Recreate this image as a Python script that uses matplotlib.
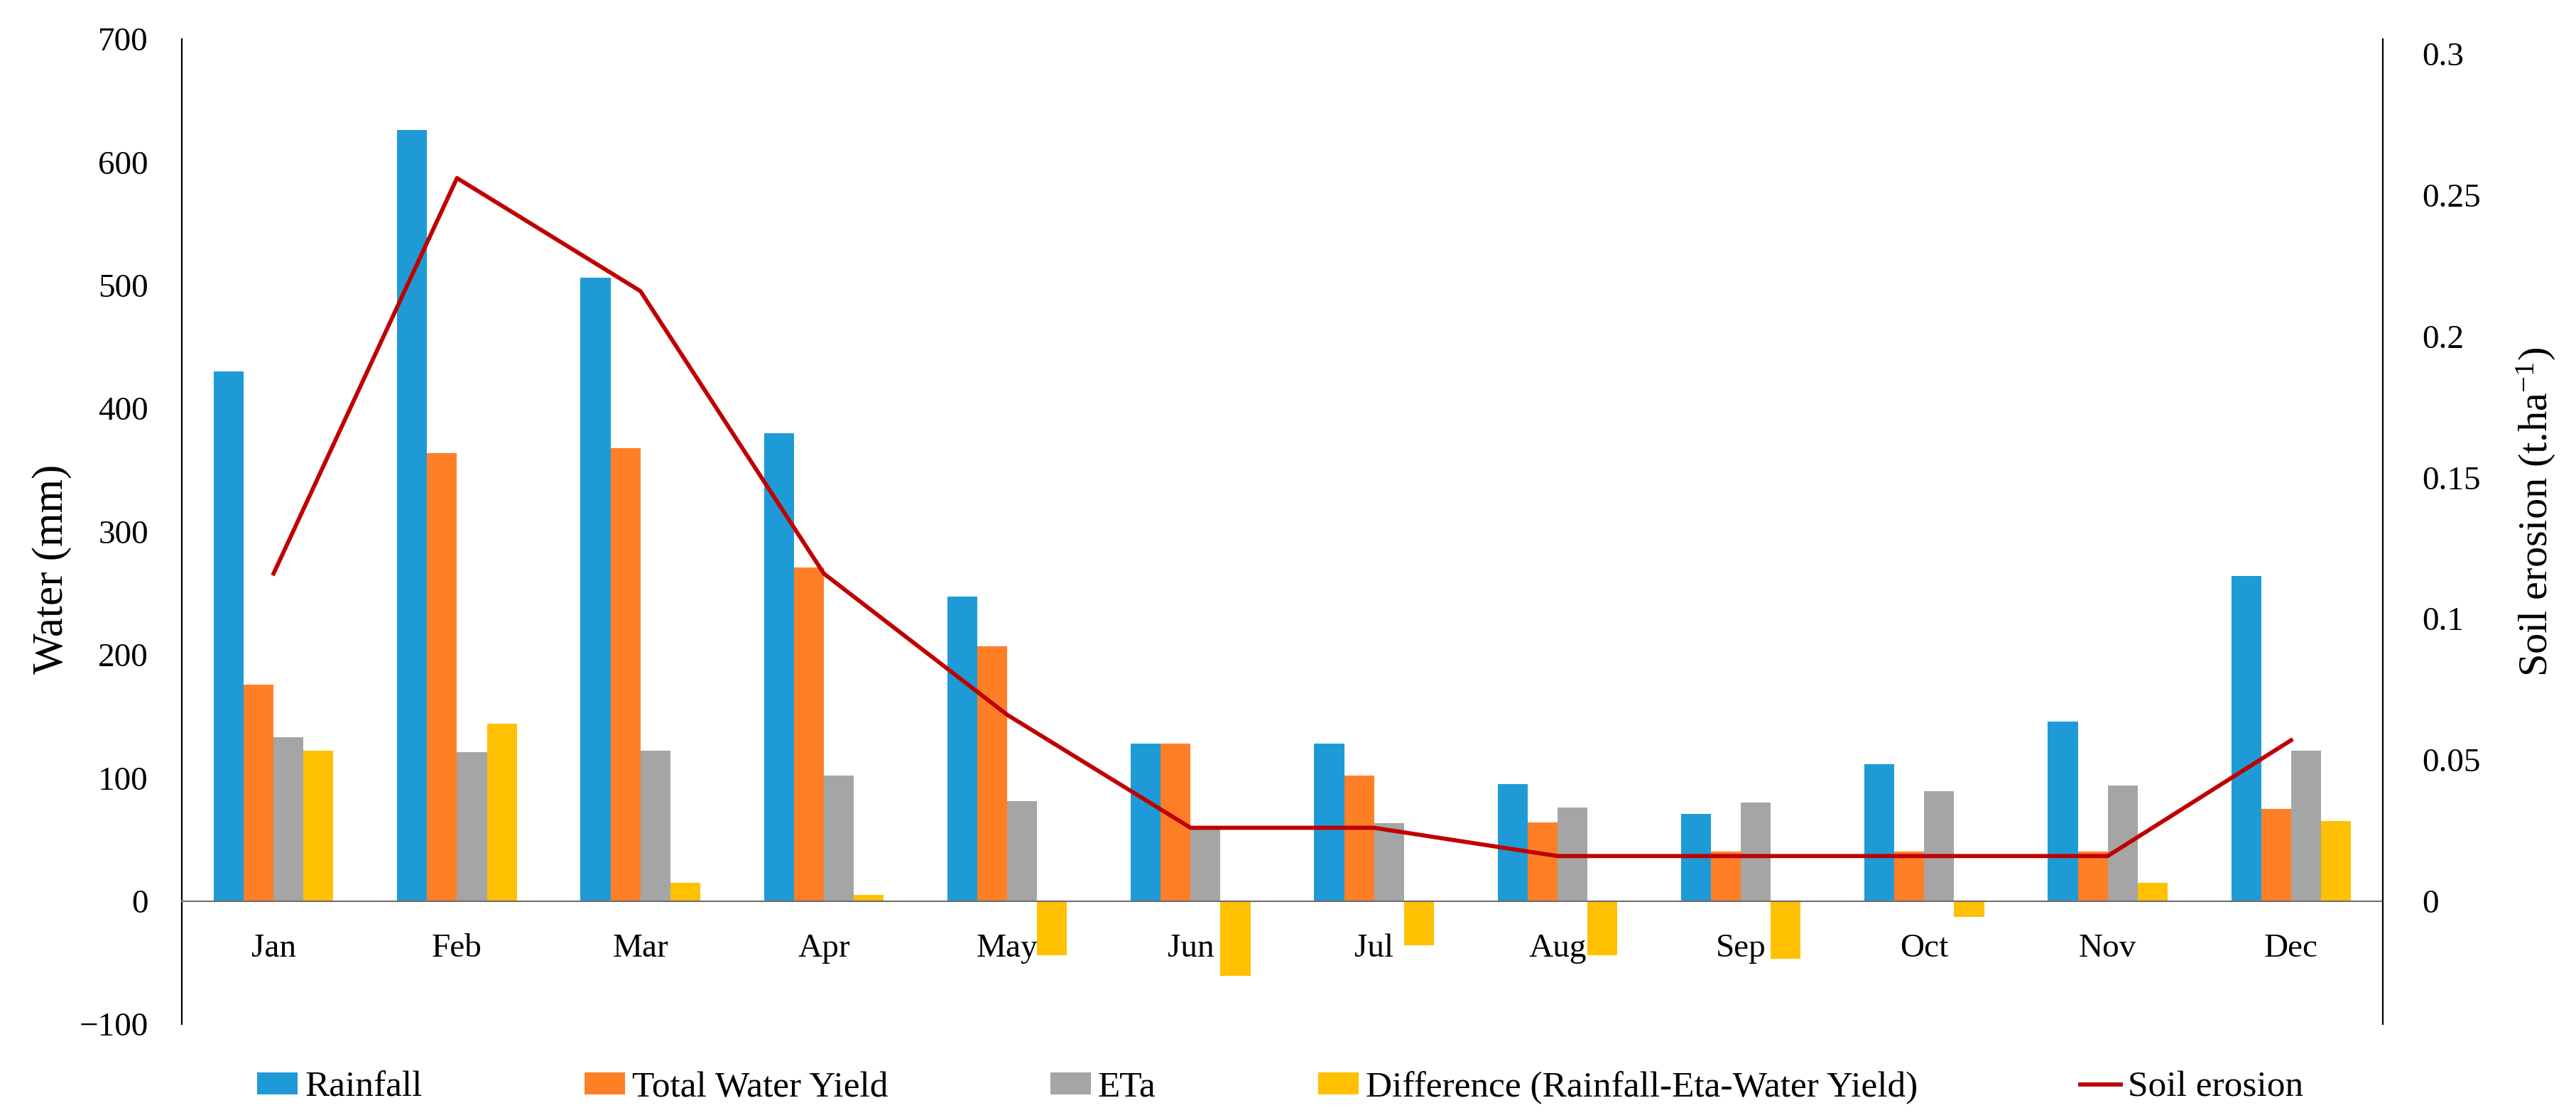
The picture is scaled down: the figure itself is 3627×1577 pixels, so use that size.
import numpy as np
import matplotlib
matplotlib.use('Agg')
import matplotlib.pyplot as plt
from matplotlib.ticker import FixedLocator, FixedFormatter

plt.rcParams['font.family'] = ['Liberation Serif', 'DejaVu Serif']
plt.rcParams['mathtext.fontset'] = 'custom'
plt.rcParams['mathtext.rm'] = 'Liberation Serif'
plt.rcParams['mathtext.it'] = 'Liberation Serif:italic'

# monthly values
months = ['Jan', 'Feb', 'Mar', 'Apr', 'May', 'Jun', 'Jul', 'Aug', 'Sep', 'Oct', 'Nov', 'Dec']
rainfall = [430, 626, 506, 380, 247, 128, 128, 95, 71, 111, 146, 264]
water_yield = [176, 364, 368, 271, 207, 128, 102, 64, 40, 40, 40, 75]
eta = [133, 121, 122, 102, 81, 59, 63, 76, 80, 89, 94, 122]
difference = [122, 144, 15, 5, -44, -61, -36, -44, -47, -13, 15, 65]
soil_erosion = [0.116, 0.256, 0.216, 0.116, 0.066, 0.026, 0.026, 0.016, 0.016, 0.016, 0.016, 0.057]

left_ticks = [-100, 0, 100, 200, 300, 400, 500, 600, 700]
right_ticks = [0, 0.05, 0.1, 0.15, 0.2, 0.25, 0.3]
right_labels = ['0', '0.05', '0.1', '0.15', '0.2', '0.25', '0.3']

fig = plt.figure(figsize=(36.27, 15.77), dpi=100)
ax = fig.add_axes([0.0706, 0.0856, 0.8544, 0.8795])

x = np.arange(len(months))
w = 0.163

b1 = ax.bar(x - 1.5 * w, rainfall, w, color='#1E9BD7', label='Rainfall')
b2 = ax.bar(x - 0.5 * w, water_yield, w, color='#FF7F27', label='Total Water Yield')
b3 = ax.bar(x + 0.5 * w, eta, w, color='#A5A5A5', label='ETa')
b4 = ax.bar(x + 1.5 * w, difference, w, color='#FFC000',
            label='Difference (Rainfall-Eta-Water Yield)')

ax.set_xlim(-0.5, len(months) - 0.5)
ax.set_ylim(-100, 700)
ax.yaxis.set_major_locator(FixedLocator(left_ticks))
ax.set_xticks(x)
ax.set_xticklabels(months)

ax.spines['top'].set_visible(False)
ax.spines['right'].set_visible(False)
ax.spines['left'].set_linewidth(1.6)
ax.spines['left'].set_color('black')
ax.spines['bottom'].set_position(('data', 0))
ax.spines['bottom'].set_color('#6E6E6E')
ax.spines['bottom'].set_linewidth(1.5)

ax.tick_params(axis='y', length=0, pad=34, labelsize=34)
ax.tick_params(axis='x', length=0, pad=33, labelsize=34)
ax.set_ylabel('Water (mm)', fontsize=44)
ax.yaxis.set_label_coords(-0.050, 0.462)

ax2 = ax.twinx()
ln, = ax2.plot(x, soil_erosion, color='#C00000', linewidth=4.2, label='Soil erosion')
ax2.set_ylim(-0.0435, 0.3052)
ax2.yaxis.set_major_locator(FixedLocator(right_ticks))
ax2.yaxis.set_major_formatter(FixedFormatter(right_labels))
for s in ['top', 'left', 'bottom']:
    ax2.spines[s].set_visible(False)
ax2.spines['right'].set_linewidth(1.6)
ax2.spines['right'].set_color('black')
ax2.tick_params(axis='y', length=0, pad=40, labelsize=34)
ax2.set_ylabel('Soil erosion (t.ha$^{-1}$)', fontsize=42)
ax2.yaxis.set_label_coords(1.0600, 0.520)

handles = [b1, b2, b3, b4, ln]
labels = [h.get_label() for h in handles]
fig.legend(handles, labels, loc='center', bbox_to_anchor=(0.497, 0.029), ncol=5,
           frameon=False, fontsize=37, handlelength=1.1, handleheight=0.55,
           handletextpad=0.2, columnspacing=4.45, borderpad=0.2)

fig.savefig('out.png', dpi=100)
